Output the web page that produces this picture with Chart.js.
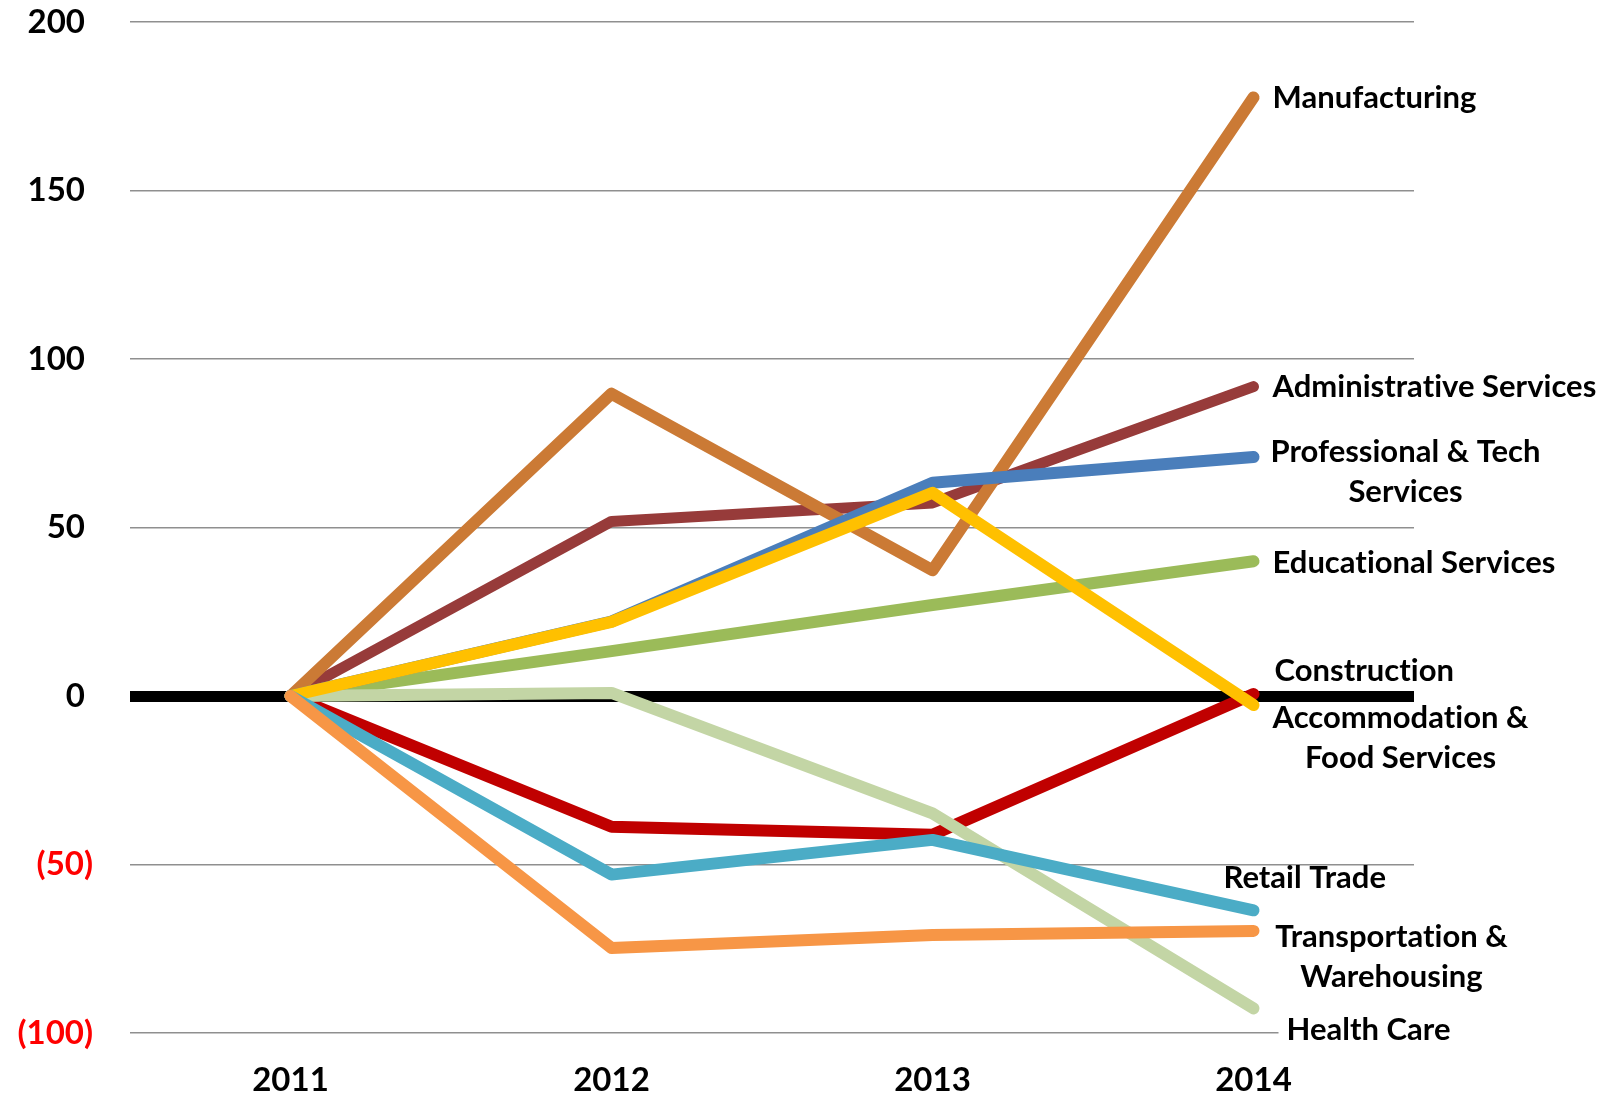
<!DOCTYPE html>
<html>
<head>
<meta charset="utf-8">
<script src="https://cdn.jsdelivr.net/npm/chart.js@4.4.1/dist/chart.umd.min.js"></script>
<style>
html,body{margin:0;padding:0;background:#fff;}
#wrap{width:1602px;height:1099px;}
</style>
</head>
<body>
<div id="wrap"><canvas id="c" width="1602" height="1099"></canvas></div>
<script>
const years = ['2011','2012','2013','2014'];
const manufacturing = [0, 89.7, 37.3, 177.6];
const administrative = [0, 51.8, 57.3, 91.8];
const professional = [0, 22.1, 63.3, 70.9];
const educational = [0, 13.3, 27.0, 40.0];
const accommodation = [0, 22.0, 60.3, -2.7];
const construction = [0, -38.8, -41.2, 0.6];
const retail = [0, -53.0, -42.7, -63.6];
const transportation = [0, -74.8, -70.9, -69.7];
const healthCare = [0, 0.9, -34.8, -92.7];
const yTicks = [-100, -50, 0, 50, 100, 150, 200];

const FONT = 'Lato, "Open Sans", sans-serif';

function ds(label, data, color, order, width) {
  return {label, data, borderColor: color, backgroundColor: color, borderWidth: width || 12,
    pointRadius: 0, pointHoverRadius: 0, tension: 0, borderCapStyle: 'round',
    borderJoinStyle: 'round', order, fill: false};
}

const endLabels = [
  {lines:['Manufacturing'], dx:19, ys:[98], align:'left'},
  {lines:['Administrative Services'], dx:19, ys:[387], align:'left'},
  {lines:['Professional & Tech','Services'], dx:152, ys:[452,492], align:'center'},
  {lines:['Educational Services'], dx:19, ys:[563], align:'left'},
  {lines:['Construction'], dx:21, ys:[671], align:'left'},
  {lines:['Accommodation &','Food Services'], dx:147, ys:[718,758], align:'center'},
  {lines:['Retail Trade'], dx:-30, ys:[878], align:'left'},
  {lines:['Transportation &','Warehousing'], dx:138, ys:[937,977], align:'center'},
  {lines:['Health Care'], dx:33, ys:[1030], align:'left', bg:true}
];

const labelPlugin = {
  id: 'endLabels',
  afterDatasetsDraw(chart) {
    const ctx = chart.ctx;
    const x0 = chart.scales.x.getPixelForValue(3);
    ctx.save();
    ctx.font = 'bold 31px ' + FONT;
    try { ctx.letterSpacing = '0.01px'; } catch (e) {}
    ctx.fillStyle = '#000';
    ctx.textBaseline = 'middle';
    endLabels.forEach(l => {
      const x = x0 + l.dx;
      l.lines.forEach((t, i) => {
        ctx.textAlign = l.align;
        if (l.bg) {
          const w = ctx.measureText(t).width;
          ctx.fillStyle = '#fff';
          ctx.fillRect(x - 8, l.ys[i] - 19, w + 16, 38);
          ctx.fillStyle = '#000';
        }
        ctx.fillText(t, x, l.ys[i]);
      });
    });
    ctx.restore();
  }
};

new Chart(document.getElementById('c'), {
  type: 'line',
  data: {
    labels: years,
    datasets: [
      ds('Administrative Services', administrative, '#973B3A', 9, 11),
      ds('Manufacturing', manufacturing, '#CB7A35', 8),
      ds('Educational Services', educational, '#9BBB59', 7),
      ds('Professional & Tech Services', professional, '#4A7EBB', 6),
      ds('Construction', construction, '#C00000', 5),
      ds('Health Care', healthCare, '#C3D5A5', 4),
      ds('Accommodation & Food Services', accommodation, '#FFC000', 3),
      ds('Retail Trade', retail, '#4BACC6', 2),
      ds('Transportation & Warehousing', transportation, '#F79646', 1)
    ]
  },
  options: {
    responsive: false,
    animation: false,
    devicePixelRatio: 1,
    layout: {padding: {top: 22, right: 188, left: 0, bottom: 0}},
    plugins: {legend: {display: false}, tooltip: {enabled: false}},
    scales: {
      x: {
        offset: true,
        grid: {display: false, drawTicks: false},
        border: {display: false},
        ticks: {color: '#000', font: {family: FONT, size: 33, weight: 'bold'}, padding: 28, maxRotation: 0},
        afterFit(s) { s.height = 66; s.paddingLeft = 0; s.paddingRight = 0; }
      },
      y: {
        min: -100, max: 200,
        afterBuildTicks(s) { s.ticks = yTicks.map(v => ({value: v})); },
        grid: {
          drawTicks: false,
          color: c => c.tick && c.tick.value === 0 ? '#000' : '#8f8f8f',
          lineWidth: c => c.tick && c.tick.value === 0 ? 11 : 1.5
        },
        border: {display: false},
        ticks: {
          padding: 37,
          font: {family: FONT, size: 33, weight: 'bold'},
          color: c => c.tick.value < 0 ? '#FF0000' : '#000',
          callback: v => v < 0 ? '(' + (-v) + ')' : v + ' '
        },
        afterFit(s) { s.width = 130; s.paddingTop = 0; s.paddingBottom = 0; }
      }
    }
  },
  plugins: [labelPlugin]
});
</script>
</body>
</html>
